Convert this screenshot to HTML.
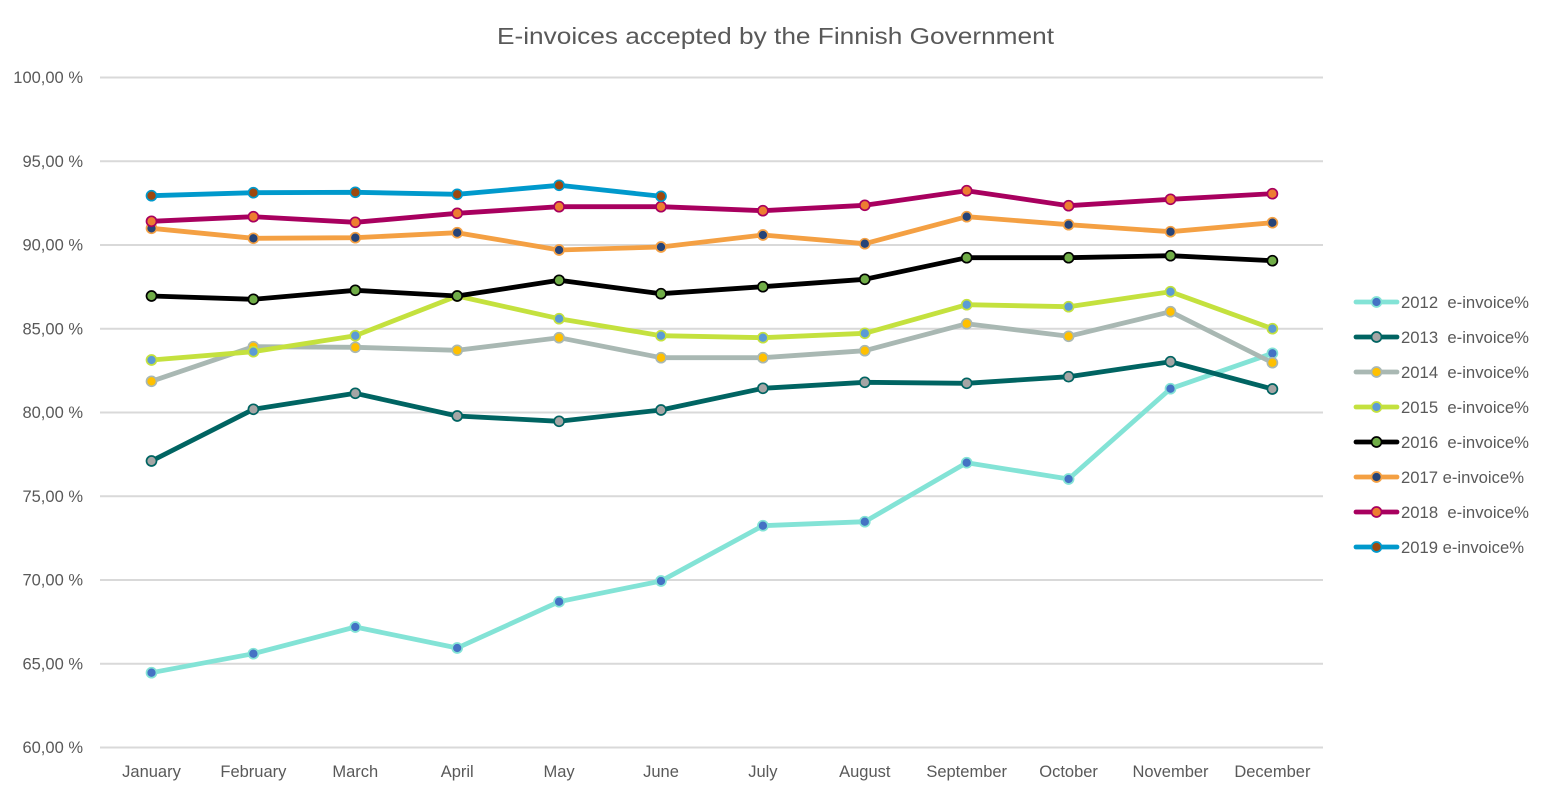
<!DOCTYPE html>
<html><head><meta charset="utf-8"><style>
html,body{margin:0;padding:0;background:#fff;}
svg{display:block;}
text{font-family:"Liberation Sans",Arial,sans-serif;fill:#595959;}
</style></head><body>
<svg width="1550" height="796" viewBox="0 0 1550 796" xmlns="http://www.w3.org/2000/svg">
<rect width="1550" height="796" fill="#fff"/>
<text x="775.5" y="44" font-size="23.5" text-anchor="middle" textLength="557" lengthAdjust="spacingAndGlyphs">E-invoices accepted by the Finnish Government</text>
<g stroke="#d9d9d9" stroke-width="2">
<line x1="100" y1="77.5" x2="1323" y2="77.5"/>
<line x1="100" y1="161.25" x2="1323" y2="161.25"/>
<line x1="100" y1="245" x2="1323" y2="245"/>
<line x1="100" y1="328.75" x2="1323" y2="328.75"/>
<line x1="100" y1="412.5" x2="1323" y2="412.5"/>
<line x1="100" y1="496.25" x2="1323" y2="496.25"/>
<line x1="100" y1="580" x2="1323" y2="580"/>
<line x1="100" y1="663.75" x2="1323" y2="663.75"/>
<line x1="100" y1="747.5" x2="1323" y2="747.5"/>
</g>
<g font-size="16.5" text-anchor="end">
<text x="83" y="83">100,00 %</text>
<text x="83" y="167">95,00 %</text>
<text x="83" y="250.5">90,00 %</text>
<text x="83" y="334.5">85,00 %</text>
<text x="83" y="418">80,00 %</text>
<text x="83" y="502">75,00 %</text>
<text x="83" y="585.5">70,00 %</text>
<text x="83" y="669.5">65,00 %</text>
<text x="83" y="753">60,00 %</text>
</g>
<g font-size="16.5" text-anchor="middle">
<text x="151.5" y="777">January</text>
<text x="253.4" y="777">February</text>
<text x="355.3" y="777">March</text>
<text x="457.2" y="777">April</text>
<text x="559.1" y="777">May</text>
<text x="661" y="777">June</text>
<text x="762.9" y="777">July</text>
<text x="864.8" y="777">August</text>
<text x="966.7" y="777">September</text>
<text x="1068.6" y="777">October</text>
<text x="1170.5" y="777">November</text>
<text x="1272.4" y="777">December</text>
</g>
<script>
var xs=[151.5,253.4,355.3,457.2,559.1,661,762.9,864.8,966.7,1068.6,1170.5,1272.4];
var S=[
["#83E3D6","#4472C4",[672.7,653.7,627,648,601.7,581,525.7,521.7,462.7,479,388.7,353.3]],
["#006462","#A5A5A5",[461,409.3,393.3,416,421.3,410,388.3,382.3,383.3,376.7,361.7,389]],
["#A9B8B3","#FFC000",[381.3,346.7,347.3,350.3,337.7,357.7,357.7,350.7,323.7,336.3,311.7,362.7]],
["#C4E13E","#5B9BD5",[360,351.7,335.7,296,318.7,335.7,337.7,333.3,304.7,306.7,291.7,328.7]],
["#000000","#70AD47",[296,299.3,290.3,296,280.3,293.7,286.7,279.3,257.7,257.7,255.7,260.7]],
["#F4A043","#264478",[228.3,238.3,237.7,232.7,250,247,235,243.7,216.7,224.7,231.7,222.7]],
["#A8005F","#ED7D31",[221.3,216.7,222.3,213.3,206.7,206.7,210.7,205.3,190.7,205.7,199.3,193.7]],
["#0099CC","#9E480E",[195.7,192.7,192.3,194.3,185.3,196.3]]
];
var labels=["2012  e-invoice%","2013  e-invoice%","2014  e-invoice%","2015  e-invoice%","2016  e-invoice%","2017 e-invoice%","2018  e-invoice%","2019 e-invoice%"];
var widths=[128,128,128,128,128,123,128,123];
var NS="http://www.w3.org/2000/svg";
var svg=document.querySelector("svg");
function el(n,a){var e=document.createElementNS(NS,n);for(var k in a)e.setAttribute(k,a[k]);svg.appendChild(e);return e;}
S.forEach(function(s,i){
  var pts=s[2].map(function(y,j){return xs[j]+","+y;}).join(" ");
  el("polyline",{points:pts,fill:"none",stroke:s[0],"stroke-width":4.8,"stroke-linejoin":"round","stroke-linecap":"round"});
  s[2].forEach(function(y,j){el("circle",{cx:xs[j],cy:y,r:5,fill:s[1],stroke:s[0],"stroke-width":1.7});});
  var ly=302+i*35;
  el("line",{x1:1356,y1:ly,x2:1397,y2:ly,stroke:s[0],"stroke-width":4.8,"stroke-linecap":"round"});
  el("circle",{cx:1376.5,cy:ly,r:5,fill:s[1],stroke:s[0],"stroke-width":1.7});
  var t=el("text",{x:1401,y:ly+6,"font-size":17,textLength:widths[i],lengthAdjust:"spacingAndGlyphs"});
  t.setAttribute("xml:space","preserve");t.style.whiteSpace="pre";
  t.textContent=labels[i];
});
</script>
</svg>
</body></html>
